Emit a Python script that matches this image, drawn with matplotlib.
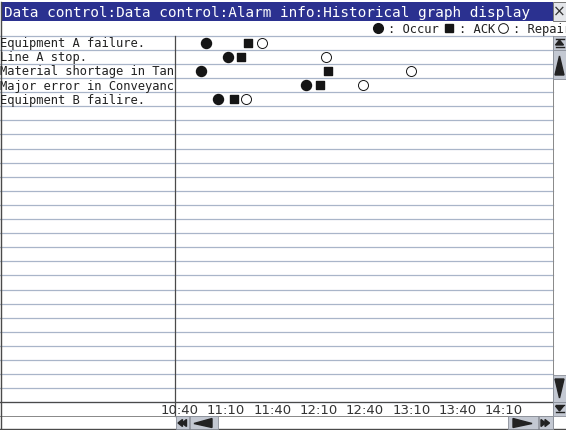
import matplotlib
matplotlib.use("Agg")
import matplotlib.pyplot as plt
from matplotlib.patches import Rectangle, Polygon
from matplotlib.transforms import blended_transform_factory

# ---------------- data ----------------
title = "Data control:Data control:Alarm info:Historical graph display"
alarms = ["Equipment A failure.", "Line A stop.", "Material shortage in Tan",
          "Major error in Conveyanc", "Equipment B failire."]
occur_times = ["10:57", "11:11", "10:54", "12:02", "11:05"]
ack_times = ["11:24", "11:20", "12:16", "12:11", "11:15"]
repair_times = ["11:33", "12:15", "13:10", "12:39", "11:23"]
tick_labels = ["10:40", "11:10", "11:40", "12:10", "12:40", "13:10", "13:40", "14:10"]
legend_labels = [": Occur", ": ACK", ": Repair"]
n_rows = 26

def to_min(s):
    h, m = s.split(":")
    return (int(h) - 10) * 60 + int(m) - 40

W, H = 566, 431
fig = plt.figure(figsize=(W / 100, H / 100), dpi=100)
fig.patch.set_facecolor("white")

# chrome axes in pixel coordinates
cx = fig.add_axes([0, 0, 1, 1])
cx.set_xlim(0, W)
cx.set_ylim(H, 0)
cx.axis("off")

MONO = "DejaVu Sans Mono"
BLUE = "#2b3190"
GRID = "#a9b5c9"
DARK = "#4a4a4a"
BTN = "#c3c8d2"
INK = "#151515"

# title bar
cx.add_patch(Rectangle((2, 3), 551, 19, facecolor=BLUE, edgecolor="none"))
cx.text(4, 12.8, title, color="white", fontsize=10.4, family=MONO, va="center", ha="left")
cx.add_patch(Rectangle((553, 3), 13, 19, facecolor="#e4e6ea", edgecolor="#777777", lw=0.7))
cx.text(559.5, 12.5, "×", fontsize=11, color="#333333", ha="center", va="center", family="DejaVu Sans")

# legend row
ly = 29
lx = [378, 449, 503]
tx = [388, 459, 513]
cx.plot(lx[0], ly, "o", ms=7, color=INK, mec=INK)
cx.plot(lx[1], ly, "s", ms=5.6, color=INK, mec=INK)
cx.plot(lx[2], ly, "o", ms=7, mfc="white", mec=INK, mew=0.7)
for x, lab in zip(tx, legend_labels):
    t = cx.text(x, ly + 0.5, lab, fontsize=8.7, family=MONO, va="center", ha="left", color="#222222")
    clip = Rectangle((0, 0), 553, H, transform=cx.transData)
    t.set_clip_path(clip)

# data axes (grid area)
x0, x1 = 175, 553
y0, y1 = 36.7, 403.3
ax = fig.add_axes([x0 / W, 1 - y1 / H, (x1 - x0) / W, (y1 - y0) / H])
ax.set_xlim(-3.04, 241.7)
ax.set_ylim(n_rows, 0)
for s in ax.spines.values():
    s.set_visible(False)
ax.set_xticks([])
ax.set_yticks([])
ax.patch.set_alpha(0)

# horizontal row lines across whole width (including label column)
for i in range(n_rows + 1):
    cx.axhline(y0 + i * (y1 - y0) / n_rows, xmin=0, xmax=553 / W, color=GRID, lw=0.9, zorder=1)

# alarm labels
tr = blended_transform_factory(fig.transFigure, ax.transData)
for i, lab in enumerate(alarms):
    fig.text(0.0, i + 0.5, lab, transform=tr, fontsize=8.7, family=MONO, va="center", ha="left", color="#222222")

rows = [i + 0.5 for i in range(len(alarms))]
ax.scatter([to_min(t) for t in occur_times], rows, s=52, marker="o", color=INK, zorder=3)
ax.scatter([to_min(t) for t in ack_times], rows, s=31, marker="s", color=INK, zorder=3)
ax.scatter([to_min(t) for t in repair_times], rows, s=52, marker="o", facecolor="white",
           edgecolor=INK, linewidth=0.7, zorder=3)

# time axis row
trx = blended_transform_factory(ax.transData, cx.transData)
for lab in tick_labels:
    fig.text(to_min(lab), 410.5, lab, transform=trx, fontsize=9.5, family="DejaVu Sans",
             va="center", ha="center", color="#333333")

# frame lines
cx.plot([175, 175], [36.7, 417], color=DARK, lw=0.9)
cx.plot([0, 553], [403.3, 403.3], color=DARK, lw=0.9)
cx.plot([0, 553], [417, 417], color="#888888", lw=0.7)
cx.plot([1, 1], [3, 430], color=DARK, lw=1.0)
cx.plot([0, 566], [430.3, 430.3], color=DARK, lw=1.0)
cx.plot([553, 553], [36.7, 431], color="#888888", lw=0.7)

# vertical scrollbar
def button(x, y, w, h):
    cx.add_patch(Rectangle((x, y), w, h, facecolor=BTN, edgecolor="#8a8f99", lw=0.6, zorder=4))

button(553, 36.7, 13, 14)
cx.add_patch(Polygon([[555.5, 46], [563.5, 46], [559.5, 41]], color="#222222", zorder=5))
cx.plot([555.5, 563.5], [47.5, 47.5], color="#222222", lw=1, zorder=5)
cx.plot([555.5, 563.5], [40, 40], color="#222222", lw=1, zorder=5)
button(553, 51, 13, 29)
cx.add_patch(Polygon([[555, 76], [564, 76], [559.5, 57]], color="#222222", zorder=5))
button(553, 376, 13, 27)
cx.add_patch(Polygon([[555, 380], [564, 380], [559.5, 399]], color="#222222", zorder=5))
button(553, 403.3, 13, 13.7)
cx.add_patch(Polygon([[555.5, 407], [563.5, 407], [559.5, 412]], color="#222222", zorder=5))
cx.plot([555.5, 563.5], [406, 406], color="#222222", lw=1, zorder=5)
cx.plot([555.5, 563.5], [413.5, 413.5], color="#222222", lw=1, zorder=5)

# horizontal scrollbar
button(175.5, 417.5, 13.5, 12.5)
cx.add_patch(Polygon([[178, 424], [182.5, 420.5], [182.5, 427.5]], color="#222222", zorder=5))
cx.add_patch(Polygon([[182, 424], [186.5, 420.5], [186.5, 427.5]], color="#222222", zorder=5))
button(189.5, 417.5, 28, 12.5)
cx.add_patch(Polygon([[194, 424.5], [212, 419.5], [212, 428.5]], color="#222222", zorder=5))
button(508, 417.5, 30, 12.5)
cx.add_patch(Polygon([[513, 419.5], [513, 428.5], [532, 424.5]], color="#222222", zorder=5))
button(538.5, 417.5, 14, 12.5)
cx.add_patch(Polygon([[541, 420.5], [541, 427.5], [545.5, 424]], color="#222222", zorder=5))
cx.add_patch(Polygon([[545, 420.5], [545, 427.5], [549.5, 424]], color="#222222", zorder=5))

fig.savefig("out.png", dpi=100)
